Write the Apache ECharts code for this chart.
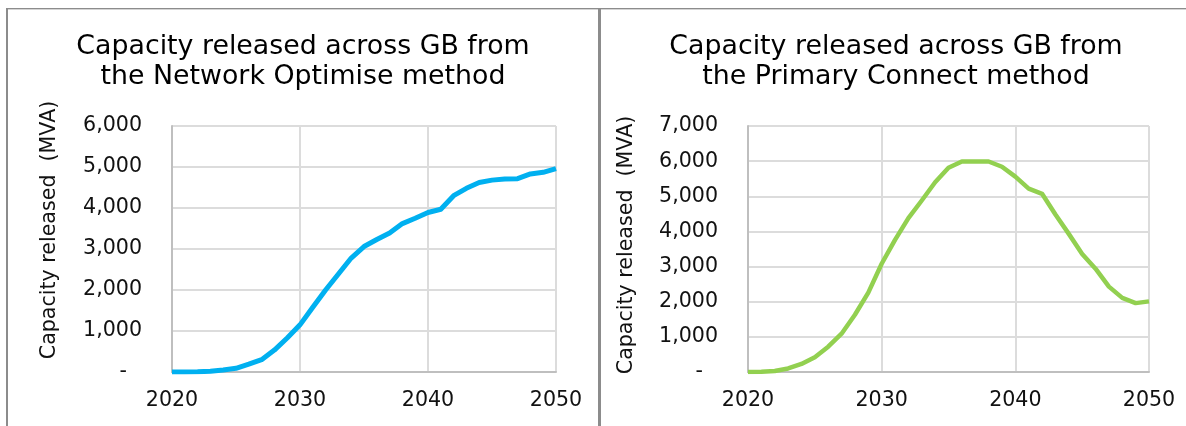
<!DOCTYPE html>
<html>
<head>
<meta charset="utf-8">
<script src="https://cdn.jsdelivr.net/npm/echarts@6/dist/echarts.min.js"></script>
<style>
  html, body { margin: 0; padding: 0; background: #ffffff; }
  #chart { width: 1186px; height: 426px; }
</style>
</head>
<body>
<div id="chart"></div>
<script>
// Years on the horizontal axis (one point per year)
const years = [
  2020, 2021, 2022, 2023, 2024, 2025, 2026, 2027, 2028, 2029, 2030,
  2031, 2032, 2033, 2034, 2035, 2036, 2037, 2038, 2039, 2040,
  2041, 2042, 2043, 2044, 2045, 2046, 2047, 2048, 2049, 2050
];

// Capacity released (MVA) – Network Optimise method
const networkOptimise = [
  0, 0, 5, 20, 50, 90, 190, 300, 535, 830, 1150,
  1580, 2000, 2390, 2780, 3060, 3230, 3390, 3620, 3750, 3890,
  3970, 4300, 4480, 4620, 4680, 4710, 4715, 4830, 4870, 4960
];

// Capacity released (MVA) – Primary Connect method
const primaryConnect = [
  0, 5, 30, 100, 230, 420, 720, 1090, 1630, 2260, 3080,
  3760, 4380, 4880, 5400, 5810, 5990, 5990, 5990, 5840, 5560,
  5220, 5070, 4480, 3930, 3360, 2940, 2430, 2110, 1960, 2010
];

const titles = [
  'Capacity released across GB from\nthe Network Optimise method',
  'Capacity released across GB from\nthe Primary Connect method'
];
const yAxisTitle = 'Capacity released  (MVA)';
const xTicks = { min: 2020, max: 2050, step: 10 };
const yTicksLeft = { min: 0, max: 6000, step: 1000 };
const yTicksRight = { min: 0, max: 7000, step: 1000 };

const FONT = '"DejaVu Sans", Verdana, sans-serif';
const TEXT = '#111111';
const GRID = '#dcdcdc';
const AXIS = '#bfbfbf';
const FRAME = '#8c8c8c';
const TICK_SIZE = 20.6;
const TITLE_SIZE = 26.8;

const pairs = (vals) => years.map((y, i) => [y, vals[i]]);

function fmtThousands(v) {
  if (v === 0) return '{z|-}';
  return String(v).replace(/\B(?=(\d{3})+(?!\d))/g, ',');
}

function makeX(gridIndex) {
  return {
    type: 'value', gridIndex,
    min: xTicks.min, max: xTicks.max, interval: xTicks.step,
    axisLine: { show: true, lineStyle: { color: AXIS, width: 2 } },
    axisTick: { show: false },
    axisLabel: { color: TEXT, fontFamily: FONT, fontSize: TICK_SIZE, margin: 18,
                 formatter: (v) => String(v) },
    splitLine: { show: true, lineStyle: { color: GRID, width: 2 } }
  };
}

function makeY(gridIndex, t) {
  return {
    type: 'value', gridIndex,
    min: t.min, max: t.max, interval: t.step,
    axisLine: { show: true, lineStyle: { color: AXIS, width: 2 } },
    axisTick: { show: false },
    axisLabel: {
      color: TEXT, fontFamily: FONT, fontSize: TICK_SIZE, margin: 30,
      formatter: fmtThousands,
      rich: { z: { color: TEXT, fontFamily: FONT, fontSize: TICK_SIZE, padding: [0, 15, 0, 0] } }
    },
    splitLine: { show: true, lineStyle: { color: GRID, width: 2 } }
  };
}

const chart = echarts.init(document.getElementById('chart'), null, { renderer: 'canvas' });

chart.setOption({
  animation: false,
  backgroundColor: '#ffffff',
  grid: [
    { left: 172, right: 630, top: 126, bottom: 54 },
    { left: 748, right: 37, top: 126, bottom: 54 }
  ],
  xAxis: [makeX(0), makeX(1)],
  yAxis: [makeY(0, yTicksLeft), makeY(1, yTicksRight)],
  series: [
    {
      type: 'line', xAxisIndex: 0, yAxisIndex: 0,
      data: pairs(networkOptimise),
      showSymbol: false, symbol: 'none', z: 5,
      lineStyle: { color: '#00b0f0', width: 5, cap: 'butt', join: 'round' }
    },
    {
      type: 'line', xAxisIndex: 1, yAxisIndex: 1,
      data: pairs(primaryConnect),
      showSymbol: false, symbol: 'none', z: 5,
      lineStyle: { color: '#92d050', width: 4.5, cap: 'butt', join: 'round' }
    }
  ],
  graphic: [
    // panel frame: top rule, left rule and the divider between the two panels
    { type: 'rect', shape: { x: 6, y: 8, width: 1180, height: 1 }, style: { fill: FRAME }, silent: true },
    { type: 'rect', shape: { x: 6, y: 9, width: 1180, height: 1 }, style: { fill: '#d4d4d4' }, silent: true },
    { type: 'rect', shape: { x: 6, y: 8, width: 2, height: 418 }, style: { fill: FRAME }, silent: true },
    { type: 'rect', shape: { x: 598, y: 8, width: 3, height: 418 }, style: { fill: FRAME }, silent: true },
    // chart titles
    { type: 'text', x: 303, y: 62, silent: true,
      style: { text: titles[0], font: TITLE_SIZE + 'px ' + FONT, fill: '#000000',
               textAlign: 'center', textVerticalAlign: 'middle', lineHeight: 30 } },
    { type: 'text', x: 896, y: 62, silent: true,
      style: { text: titles[1], font: TITLE_SIZE + 'px ' + FONT, fill: '#000000',
               textAlign: 'center', textVerticalAlign: 'middle', lineHeight: 30 } },
    // vertical axis titles
    { type: 'text', x: 50, y: 230, rotation: Math.PI / 2, silent: true,
      style: { text: yAxisTitle, font: TICK_SIZE + 'px ' + FONT, fill: TEXT,
               textAlign: 'center', textVerticalAlign: 'middle' } },
    { type: 'text', x: 627, y: 245, rotation: Math.PI / 2, silent: true,
      style: { text: yAxisTitle, font: TICK_SIZE + 'px ' + FONT, fill: TEXT,
               textAlign: 'center', textVerticalAlign: 'middle' } }
  ]
});
</script>
</body>
</html>
